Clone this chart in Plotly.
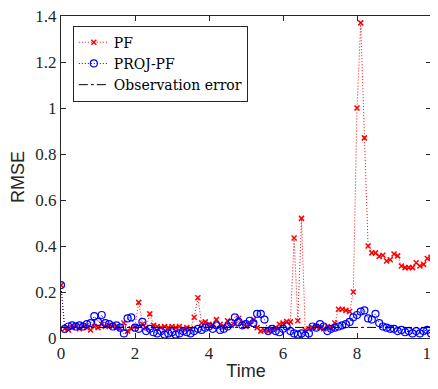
import plotly.graph_objects as go

time = [round(i * 0.1, 1) for i in range(101)]

pf_rmse = [
    0.23, 0.04, 0.035, 0.045, 0.05, 0.04, 0.05, 0.045, 0.035, 0.05,
    0.045, 0.06, 0.05, 0.055, 0.05, 0.045, 0.04, 0.065, 0.03, 0.04,
    0.05, 0.155, 0.06, 0.045, 0.105, 0.055, 0.05, 0.045, 0.05, 0.045,
    0.05, 0.045, 0.05, 0.04, 0.045, 0.04, 0.09, 0.175, 0.065, 0.07,
    0.06, 0.055, 0.08, 0.06, 0.05, 0.075, 0.055, 0.06, 0.085, 0.065,
    0.05, 0.06, 0.08, 0.045, 0.03, 0.035, 0.03, 0.04, 0.045, 0.06,
    0.065, 0.072, 0.07, 0.435, 0.075, 0.52, 0.035, 0.04, 0.045, 0.05,
    0.045, 0.04, 0.05, 0.045, 0.065, 0.125, 0.125, 0.12, 0.115, 0.2,
    1.0, 1.37, 0.87, 0.40, 0.37, 0.37, 0.355, 0.36, 0.335, 0.34,
    0.365, 0.357, 0.313, 0.306, 0.306, 0.306, 0.327, 0.313, 0.32, 0.346,
    0.351,
]

proj_pf_rmse = [
    0.23, 0.04, 0.05, 0.055, 0.05, 0.055, 0.05, 0.06, 0.065, 0.095,
    0.07, 0.10, 0.065, 0.06, 0.05, 0.055, 0.045, 0.02, 0.085, 0.09,
    0.045, 0.04, 0.07, 0.03, 0.04, 0.025, 0.02, 0.03, 0.015, 0.02,
    0.025, 0.015, 0.02, 0.03, 0.025, 0.02, 0.03, 0.04, 0.035, 0.045,
    0.05, 0.04, 0.055, 0.035, 0.04, 0.05, 0.065, 0.09, 0.07, 0.055,
    0.06, 0.075, 0.065, 0.105, 0.105, 0.08, 0.03, 0.04, 0.03, 0.025,
    0.04, 0.05, 0.03, 0.02, 0.015, 0.02, 0.01, 0.02, 0.05, 0.045,
    0.06, 0.05, 0.03, 0.04, 0.045, 0.05, 0.055, 0.06, 0.07, 0.09,
    0.10, 0.115, 0.12, 0.085, 0.08, 0.105, 0.065, 0.05, 0.045, 0.04,
    0.04, 0.03, 0.035, 0.025, 0.03, 0.02, 0.03, 0.02, 0.03, 0.035,
    0.02,
]

obs_time = [0, 10]
obs_error = [0.046, 0.046]

x_ticks = [0, 2, 4, 6, 8, 10]
y_ticks = [0, 0.2, 0.4, 0.6, 0.8, 1, 1.2, 1.4]
y_tick_labels = ["0", "0.2", "0.4", "0.6", "0.8", "1", "1.2", "1.4"]

serif = "Liberation Serif, DejaVu Serif, serif"
legend_serif = "DejaVu Serif, serif"
sans = "Liberation Sans, Arial, sans-serif"

fig = go.Figure()
fig.add_trace(go.Scatter(
    x=time, y=pf_rmse, name="PF", mode="lines+markers",
    line=dict(color="red", width=1, dash="1px,2px"),
    marker=dict(symbol="x-thin-open", size=5, color="red",
                line=dict(color="red", width=1.5)),
))
fig.add_trace(go.Scatter(
    x=time, y=proj_pf_rmse, name="PROJ-PF", mode="lines+markers",
    line=dict(color="blue", width=1, dash="1px,2px"),
    marker=dict(symbol="circle-open", size=7, color="blue",
                line=dict(color="blue", width=1.2)),
))
fig.add_trace(go.Scatter(
    x=obs_time, y=obs_error, name="Observation error", mode="lines",
    line=dict(color="black", width=1, dash="dashdot"),
))

axis_common = dict(
    showgrid=False, zeroline=False, showline=True, linecolor="#262626",
    linewidth=1, mirror="ticks", ticks="inside", ticklen=5,
    tickcolor="#262626", ticklabeloverflow="allow", automargin=False,
    tickfont=dict(family=serif, size=17, color="#262626"),
)

# The page body keeps its default 8px margin; the figure size and margins
# place the plot area at x 61..431, y 16..338 of the 438x389 window without
# making the page scroll.
fig.update_layout(
    width=430, height=373,
    margin=dict(l=53, r=7, t=8, b=43),
    paper_bgcolor="white", plot_bgcolor="white",
    xaxis=dict(range=[0, 10], tickvals=x_ticks,
               title=dict(text="Time", font=dict(family=sans, size=18, color="#262626"),
                          standoff=6),
               **axis_common),
    yaxis=dict(range=[0, 1.4], tickvals=y_ticks, ticktext=y_tick_labels,
               title=dict(text="RMSE", font=dict(family=sans, size=18, color="#262626"),
                          standoff=6),
               **axis_common),
    legend=dict(x=0.032, y=0.97, xanchor="left", yanchor="top",
                bgcolor="white", bordercolor="#262626", borderwidth=1,
                font=dict(family=legend_serif, size=14, color="black"),
                tracegroupgap=0, itemwidth=30),
    showlegend=True,
)

fig.write_html("out.html", config={"displayModeBar": False})
